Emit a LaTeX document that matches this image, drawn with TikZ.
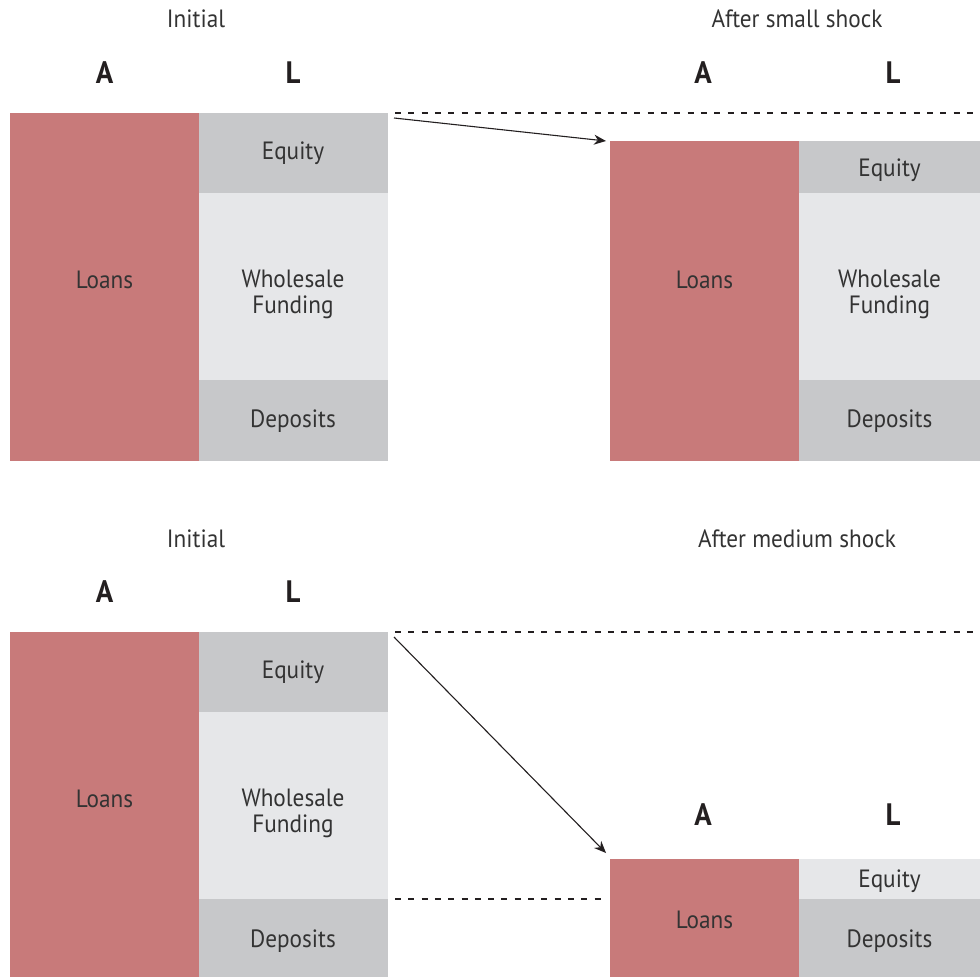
\documentclass[tikz,border=0pt]{standalone}
\usepackage{fontspec}
\setmainfont{PT Sans}[FakeStretch=0.93]
\usetikzlibrary{positioning,arrows.meta}
\definecolor{loanred}{HTML}{C87A7A}
\definecolor{liabdark}{HTML}{C7C8CA}
\definecolor{liablight}{HTML}{E6E7E9}
\definecolor{txtgray}{HTML}{333333}
\definecolor{headblack}{HTML}{231F20}

\begin{document}
\begin{tikzpicture}[x=1pt,y=-1pt,
    block/.style={rectangle, inner sep=0pt, outer sep=0pt, line width=0.6pt, anchor=north west, text=txtgray, font=\fontsize{25}{26}\selectfont, align=center},
    loanBox/.style={block, fill=loanred, draw=loanred, minimum width=189pt},
    darkBox/.style={block, fill=liabdark, draw=liabdark},
    lightBox/.style={block, fill=liablight, draw=liablight},
    twoLine/.style={text height=54pt, text depth=0pt},
    colHead/.style={font=\bfseries\fontsize{31}{31}\selectfont, text=headblack, inner sep=0pt},
    panelTitle/.style={font=\fontsize{25}{26}\selectfont, text=txtgray, inner sep=0pt},
    refLine/.style={draw=headblack, line width=2.8pt, dash pattern=on 6pt off 7.3pt},
    shockArrow/.style={-{Stealth[length=12pt,width=10pt]}, line width=1.1pt, draw=headblack}]
\useasboundingbox (0,0) rectangle (980,977);

% top left: initial
\node[panelTitle] (t1) at (196,19) {Initial};
\node[loanBox, minimum height=347pt, text depth=14pt] (loans1) at (10,113) {Loans};
\node[darkBox, minimum width=188pt, minimum height=80pt] (eq1) at (loans1.north east) {Equity};
\node[lightBox, twoLine, minimum width=188pt, minimum height=187pt, below=0pt of eq1] (wf1) {Wholesale\\Funding};
\node[darkBox, minimum width=188pt, minimum height=80pt, text height=20pt, below=0pt of wf1] (dep1) {Deposits};
\node[colHead, above=29pt of loans1] (a1) {A};
\node[colHead, above=29pt of eq1] (l1) {L};

% top right: small shock
\node[panelTitle] (t2) at (797,19) {After small shock};
\node[loanBox, minimum height=319pt, text depth=42pt] (loans2) at (610,141) {Loans};
\node[darkBox, minimum width=181pt, minimum height=52pt, text height=23.5pt] (eq2) at (loans2.north east) {Equity};
\node[lightBox, twoLine, minimum width=181pt, minimum height=187pt, below=0pt of eq2] (wf2) {Wholesale\\Funding};
\node[darkBox, minimum width=181pt, minimum height=80pt, text height=20pt, below=0pt of wf2] (dep2) {Deposits};
\node[colHead] (a2) at (703,73) {A};
\node[colHead] (l2) at (893,73) {L};

\draw[refLine] ([xshift=8pt]eq1.north east) -- ([xshift=-4pt]eq2.east |- eq1.north);
\draw[shockArrow] ([xshift=7pt,yshift=-5pt]eq1.north east) -- ([xshift=-4pt]loans2.north west);

% bottom left: initial
\node[panelTitle] (t3) at (196,539) {Initial};
\node[loanBox, minimum height=345pt, text depth=12pt] (loans3) at (10,632) {Loans};
\node[darkBox, minimum width=188pt, minimum height=80pt] (eq3) at (loans3.north east) {Equity};
\node[lightBox, twoLine, minimum width=188pt, minimum height=187pt, below=0pt of eq3] (wf3) {Wholesale\\Funding};
\node[darkBox, minimum width=188pt, minimum height=78pt, text height=23pt, below=0pt of wf3] (dep3) {Deposits};
\node[colHead, above=29pt of loans3] (a3) {A};
\node[colHead, above=29pt of eq3] (l3) {L};

% bottom right: medium shock
\node[panelTitle] (t4) at (797,539) {After medium shock};
\node[loanBox, minimum height=118pt, text height=22pt] (loans4) at (610,859) {Loans};
\node[lightBox, minimum width=181pt, minimum height=40pt, text height=22pt] (eq4) at (loans4.north east) {Equity};
\node[darkBox, minimum width=181pt, minimum height=78pt, text height=23pt, below=0pt of eq4] (dep4) {Deposits};
\node[colHead] (a4) at (703,815) {A};
\node[colHead] (l4) at (893,815) {L};

\draw[refLine] ([xshift=8pt]eq3.north east) -- ([xshift=-4pt]eq4.east |- eq3.north);
\draw[refLine] ([xshift=8pt]dep3.north east) -- ([xshift=-6pt]loans4.west |- dep3.north);
\draw[shockArrow] ([xshift=7pt,yshift=-5pt]eq3.north east) -- ([xshift=-4pt,yshift=6pt]loans4.north west);
\end{tikzpicture}
\end{document}
